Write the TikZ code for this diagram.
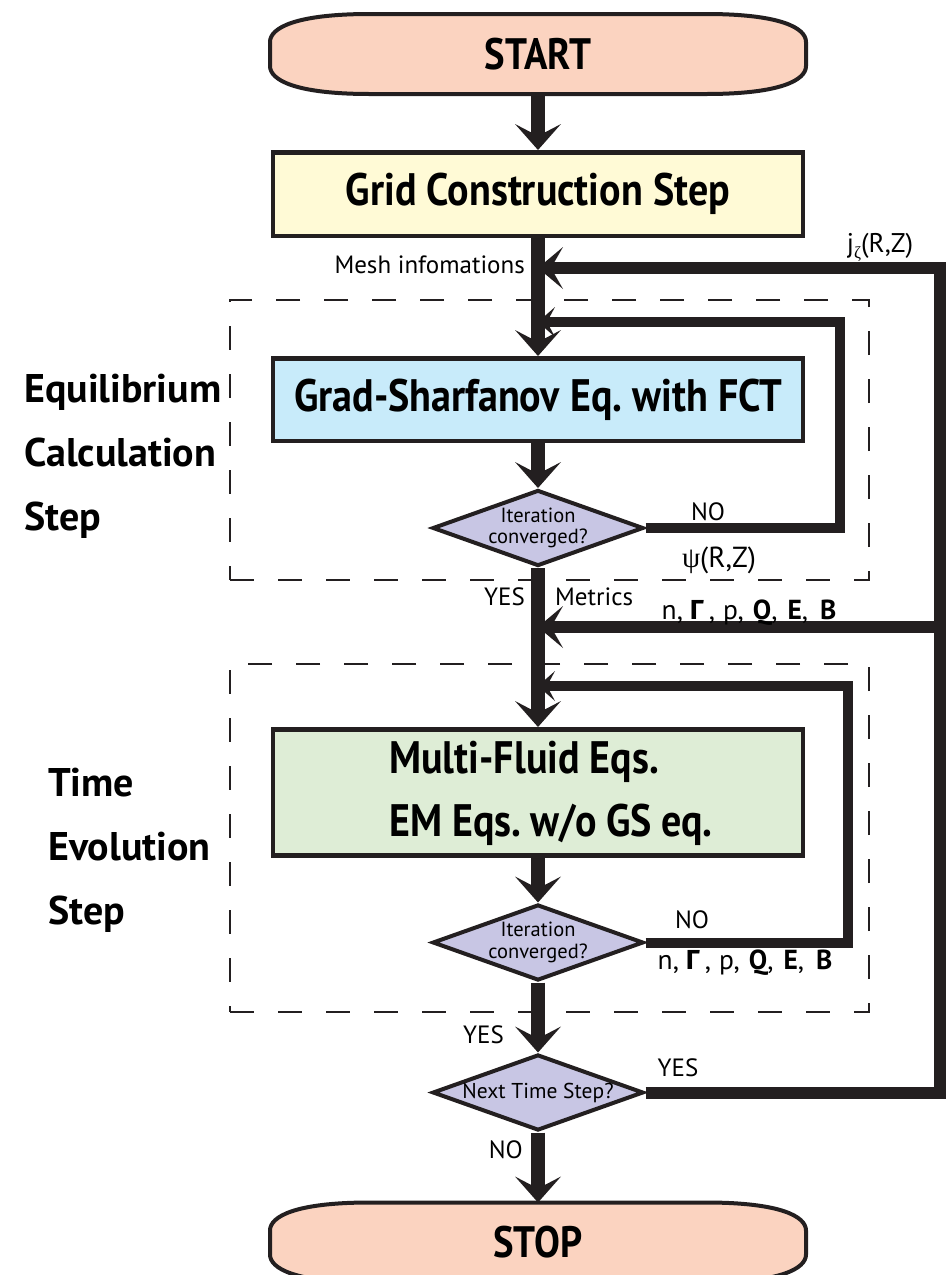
\documentclass[tikz,border=0pt]{standalone}
\usepackage{fontspec}
\setmainfont{PT Sans}
\newfontfamily\condfont{PT Sans}[FakeStretch=0.88]
\newfontfamily\symfont{Liberation Serif}
\newfontfamily\grkfont{Fira Sans}
\usepackage{tikz}
\usetikzlibrary{positioning,arrows.meta,fit,shapes.geometric,backgrounds}
\definecolor{inkblack}{RGB}{35,31,32}
\definecolor{peach}{RGB}{251,211,192}
\definecolor{gridyellow}{RGB}{255,250,214}
\definecolor{gsblue}{RGB}{200,235,250}
\definecolor{megreen}{RGB}{222,237,214}
\definecolor{lavender}{RGB}{200,198,228}
\newcommand{\qtylist}{n,\hspace{7pt}{\grkfont\bfseries Γ}\hspace{5pt},\hspace{8pt}p,\hspace{9pt}\textbf{Q},\hspace{10pt}\textbf{E},\hspace{12pt}\textbf{B}}
\newcommand{\capsule}[1]{%
  \path[capline]
    ([yshift=12pt]#1.west)
    .. controls ([yshift=-14pt]#1.north west) and ([xshift=25pt]#1.north west) .. ([xshift=100pt]#1.north west)
    -- ([xshift=-100pt]#1.north east)
    .. controls ([xshift=-25pt]#1.north east) and ([yshift=-14pt]#1.north east) .. ([yshift=12pt]#1.east)
    -- ([yshift=-12pt]#1.east)
    .. controls ([yshift=14pt]#1.south east) and ([xshift=-25pt]#1.south east) .. ([xshift=-100pt]#1.south east)
    -- ([xshift=100pt]#1.south west)
    .. controls ([xshift=25pt]#1.south west) and ([yshift=14pt]#1.south west) .. ([yshift=-12pt]#1.west)
    -- cycle;}

\begin{document}
\frenchspacing
\begin{tikzpicture}[
  x=1pt, y=-1pt,
  termnode/.style={minimum width=536pt, minimum height=80pt, inner sep=0pt, outer sep=0pt, font=\condfont\bfseries\fontsize{44}{48}\selectfont},
  capline/.style={draw=inkblack, line width=4pt, fill=peach},
  stepbox/.style={draw=inkblack, line width=4.5pt, minimum width=530pt, align=left, font=\condfont\bfseries\fontsize{45.5}{63}\selectfont},
  decide/.style={diamond, draw=inkblack, line width=4pt, fill=lavender, aspect=2.75, minimum width=211pt, minimum height=76pt, inner sep=-10pt, align=center, font=\fontsize{20.5}{21.5}\selectfont},
  flow/.style={draw=inkblack, line width=14pt, -{Stealth[length=26pt, width=46pt, inset=12pt, line width=0pt]}},
  loopback/.style={draw=inkblack, line width=12pt, -{Stealth[length=25pt, width=42pt, inset=12pt, line width=0pt]}},
  innerloop/.style={draw=inkblack, line width=10pt, -{Stealth[length=17pt, width=30pt, inset=8pt, line width=0pt]}},
  stepframe/.style={draw=inkblack, line width=2pt, dash pattern=on 24pt off 24pt, inner sep=0pt},
  lbl/.style={font=\fontsize{25}{28}\selectfont, inner sep=0pt},
  qtylbl/.style={font=\fontsize{27.5}{28}\selectfont, inner sep=0pt},
  sidelbl/.style={font=\bfseries\fontsize{40}{64}\selectfont, align=left, inner sep=0pt}
]
\useasboundingbox (0,0) rectangle (949,1275);
% dashed step frames
\node[stepframe, fit={(230,300) (869,580)}] (eqframe) {};
\node[stepframe, fit={(230,664) (869,1012)}] (tmframe) {};
% main column
\node[termnode] (start) at (538,54) {START};
\node[stepbox, fill=gridyellow, minimum height=83.5pt, below=56pt of start] (grid) {Grid Construction Step};
\node[stepbox, fill=gsblue, minimum height=82.5pt, below=118pt of grid] (gs) {Grad-Sharfanov Eq. with FCT};
\node[decide, below=45pt of gs] (dia1) {Iteration\\converged?};
\node[stepbox, fill=megreen, minimum height=121.5pt, inner sep=0pt, below=159pt of dia1] (me)
  {\hspace*{26pt}\begin{tabular}{@{}l@{}}Multi-Fluid Eqs.\\EM Eqs.\hspace{0.2em}w/o\hspace{0.2em}GS\hspace{0.2em}eq.\end{tabular}};
\node[decide, below=45pt of me] (dia2) {Iteration\\converged?};
\node[decide, font=\fontsize{21.5}{23}\selectfont, below=70pt of dia2] (dia3) {Next Time Step?};
\node[termnode, below=70pt of dia3] (stop) {STOP};
\begin{pgfonlayer}{background}
  \capsule{start}
  \capsule{stop}
\end{pgfonlayer}
% side labels
\node[sidelbl, anchor=west] (eqlbl) at (24,456) {Equilibrium\\Calculation\\Step};
\node[sidelbl, anchor=west] (tmlbl) at (48,850) {Time\\Evolution\\Step};
% junctions on the main line
\coordinate (jin) at (538,268);
\coordinate (psin) at (538,322);
\coordinate (fin) at (538,627);
\coordinate (tin) at (538,686);
\coordinate (railout) at (940,268);
\coordinate (railps) at (840,322);
\coordinate (railt) at (848,686);
% connectors
\draw[flow] (start) -- (grid);
\draw[flow] (grid) -- (gs);
\draw[flow] (gs) -- (dia1);
\draw[flow] (dia1) -- (me);
\draw[flow] (me) -- (dia2);
\draw[flow] (dia2) -- (dia3);
\draw[flow] (dia3) -- (stop);
\draw[innerloop] (dia1.east) -| (railps) -- (psin);
\draw[innerloop] (dia2.east) -| (railt) -- (tin);
\draw[loopback] (dia3.east) -| (railout) -- (jin);
\draw[loopback] (railout |- fin) -- (fin);
% labels
\node[lbl, anchor=east] (meshlbl) at (525,265) {Mesh infomations};
\node[qtylbl, font=\fontsize{27}{30}\selectfont] (jlbl) at (880,247) {j\raisebox{-6pt}{\fontsize{17}{17}\selectfont\symfont ζ}(R,Z)};
\node[lbl] (no1) at (708,512) {NO};
\node[qtylbl, font=\fontsize{29}{30}\selectfont] (psilbl) at (719,560) {{\symfont ψ}(R,Z)};
\node[lbl, anchor=east] (yes1) at (525,597) {YES};
\node[lbl, anchor=west] (metlbl) at (555,597) {Metrics};
\node[qtylbl] (qty1) at (749,613) {\qtylist};
\node[lbl] (no2) at (692,920) {NO};
\node[qtylbl] (qty2) at (745,963) {\qtylist};
\node[lbl, anchor=east] (yes2) at (504,1035) {YES};
\node[lbl] (yes3) at (678,1068) {YES};
\node[lbl, anchor=east] (no3) at (523,1150) {NO};
\end{tikzpicture}
\end{document}
